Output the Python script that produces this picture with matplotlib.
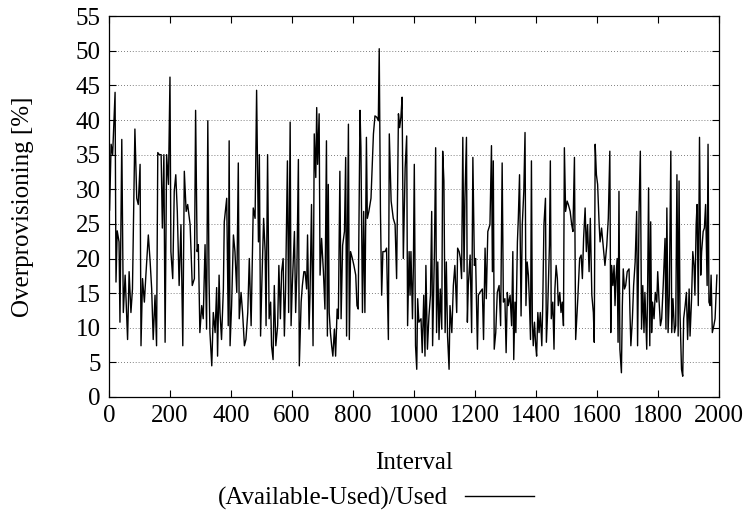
import matplotlib
matplotlib.use("Agg")
import matplotlib.pyplot as plt

# readings taken off the reference chart, (interval, overprovisioning %)
interval = [
    2, 7, 12, 20, 23, 27, 33, 36, 42, 47, 53, 61, 66, 72, 77, 85, 91, 96, 102, 105,
    110, 116, 121, 129, 135, 140, 145, 151, 156, 160, 165, 171, 175, 180, 184, 189,
    195, 200, 203, 209, 214, 219, 224, 230, 236, 242, 247, 253, 258, 266, 273, 280,
    284, 289, 293, 298, 304, 309,
    315, 320, 324, 328, 331, 337, 342, 348, 353, 356, 361, 364, 369, 375, 378, 386,
    391, 394, 397, 402, 408, 413, 419, 424, 427, 433, 438, 444, 449, 455, 460, 466,
    473, 479, 484, 490, 493, 497, 501, 507, 512, 515, 520, 525, 530, 533, 538, 542,
    547, 553, 557, 562, 566, 571, 575, 579, 585, 589, 594, 597, 601, 608, 612, 616,
    621, 624, 630, 634, 639,
    643, 648, 651, 656, 659, 664, 669, 673, 678, 681, 684, 689, 692, 697, 703, 708,
    713, 716, 719, 722, 726, 730, 734, 739, 743, 748, 752, 757, 761, 766, 772, 776,
    779, 785, 788, 792, 798, 803, 809, 813, 817, 823, 826, 831, 835, 839, 844, 847,
    852, 859, 867, 872, 878, 883, 886, 890, 894, 898, 905, 910, 916, 919, 925, 932,
    938, 943, 949, 953, 957, 961, 965,
    971, 976, 979, 984, 987, 990, 995, 998, 1001, 1005, 1009, 1012, 1016, 1023, 1027,
    1032, 1036, 1039, 1044, 1049, 1054, 1058, 1061, 1067, 1071, 1074, 1078, 1082,
    1086, 1091, 1094, 1098, 1102, 1106, 1110, 1115, 1118, 1124, 1129, 1134, 1140,
    1143, 1148, 1152, 1156, 1160, 1164, 1167, 1172, 1175, 1178, 1184, 1189, 1193,
    1198, 1202, 1208, 1211, 1216, 1224, 1228, 1233, 1237, 1242, 1249, 1254, 1257,
    1260, 1263, 1268, 1273, 1279, 1284, 1289, 1293,
    1298, 1302, 1306, 1309, 1315, 1320, 1324, 1327, 1331, 1334, 1339, 1342, 1346,
    1351, 1355, 1360, 1364, 1367, 1371, 1375, 1378, 1382, 1385, 1388, 1391, 1395,
    1399, 1402, 1406, 1410, 1414, 1419, 1422, 1426, 1431, 1434, 1438, 1444, 1447,
    1450, 1455, 1459, 1462, 1466, 1470, 1473, 1478, 1482, 1486, 1490, 1493, 1497,
    1502, 1506, 1512, 1517, 1521, 1526, 1530, 1537, 1543, 1548, 1552, 1556, 1561,
    1565, 1569, 1574, 1578, 1583, 1588, 1591, 1594, 1598, 1602, 1607, 1610, 1615,
    1621,
    1626, 1632, 1637, 1642, 1645, 1648, 1652, 1656, 1659, 1662, 1666, 1669, 1672,
    1675, 1680, 1683, 1686, 1690, 1694, 1699, 1705, 1708, 1711, 1716, 1720, 1725,
    1730, 1733, 1738, 1742, 1746, 1750, 1754, 1757, 1763, 1766, 1769, 1773, 1776,
    1779, 1782, 1787, 1791, 1796, 1799, 1803, 1808, 1812, 1817, 1823, 1826, 1829,
    1833, 1837, 1842, 1845, 1849, 1854, 1858, 1862, 1866, 1869, 1872, 1877, 1881,
    1884, 1889, 1893, 1897, 1902, 1905, 1910, 1914, 1918, 1921, 1925, 1928, 1932,
    1936, 1940, 1943, 1948, 1952, 1956, 1961, 1964, 1967, 1971, 1974, 1978, 1983,
    1987, 1993,
]
overprov = [
    27, 36.5, 35, 44, 16.6, 24, 22.4, 10.8, 37.2, 12.2, 17.6, 8.3, 18.1, 12.2, 15.6,
    38.7, 28.7, 27.8, 33.6, 7.4, 17.1, 13.7, 17.6, 23.4, 19.5, 15.6, 8.3, 14.7, 7.4,
    35.3, 35, 35, 24.4, 35, 7.9, 35, 30.7, 46.2, 21, 17.1, 29.7, 32.1, 26.8, 16.1,
    24.9, 7.4, 32.6, 26.8, 27.8, 24.9, 16.1, 17.1, 41.4, 21, 22, 9.3, 13.2, 11.3,
    22, 9.8, 39.9, 17.1, 9.3, 4.5, 12.2, 9.3, 15.8, 5.9, 17.6, 12.2, 8.3, 15.6, 25.3,
    28.7, 10.3, 37, 7.4, 13.2, 23.4, 21, 15.1, 33.8, 11.3, 15.1, 12.2, 7.4, 8.3,
    12.2, 20, 10.3, 27.3, 25.8, 44.3, 22.4, 35, 8.8, 16.1, 25.8, 21, 10.3, 35, 11.3,
    13.7, 7.4, 5.4, 16.1, 7.4, 10.3, 19, 11.3, 18.1, 20, 8.8, 15.6, 34.1, 12.2, 39.7,
    10.3, 16.1, 23.9, 12.2, 18.1, 34.3, 4.5, 13.7, 16.1, 18.1,
    18.1, 15.6, 23.4, 9.8, 14.7, 27.8, 7.4, 38, 31.7, 41.8, 33.6, 40.9, 17.6, 22.9,
    18.1, 12.7, 37, 8.8, 30.7, 12.2, 9.3, 7.4, 5.9, 9.8, 5.9, 12.7, 11.3, 32.6, 11.3,
    21.9, 23.9, 34.6, 8.8, 39.4, 8.3, 21, 20, 19, 17.6, 13.2, 12.7, 41.4, 36, 12.2,
    26.8, 12.2, 37.5, 25.8, 26.8, 28.7, 38, 40.6, 40.4, 39.9, 50.3, 26.8, 14.7, 21,
    21, 21.5, 8.3, 38, 28.3, 25.8, 24.9, 17.1, 40.9, 38.9, 40.4, 43.3, 20,
    33.1, 37.7, 10.3, 21, 14.7, 21, 11.3, 19, 33.6, 7.4, 4, 14.2, 10.8, 11.3, 6.4,
    14.7, 5.9, 19, 6.9, 11.7, 14.7, 26.8, 7.4, 21, 36, 9.3, 19.5, 8.3, 15.6, 9.8,
    35.5, 31.2, 9.3, 19.5, 8.8, 4, 13.2, 9.3, 16.1, 19, 12.2, 21.5, 21, 20, 17.1,
    37.5, 18.1, 28.7, 37.5, 10.8, 16.1, 20.5, 9.3, 34.6, 19, 20, 6.9, 14.7, 15.1,
    15.6, 8.3, 21.5, 14.2, 23.9, 24.9, 36.3, 18.1, 34.1, 6.9, 9.3, 15.1, 16.1, 10.3,
    33.8, 13.7,
    14.2, 6.4, 15.1, 13.2, 14.7, 10.3, 21, 5.4, 13.7, 9.3, 22.4, 25.8, 32.1, 11.7,
    24.9, 29.7, 38.2, 13.2, 19.5, 17.6, 14.2, 8.3, 34.1, 10.8, 7.4, 10.8, 7.4, 5.9,
    12.2, 9.3, 12.2, 7.4, 13.2, 24.9, 28.7, 7.9, 12.2, 21.9, 34.1, 11.3, 13.7, 6.9,
    15.6, 19, 17.1, 13.2, 15.1, 12.2, 13.7, 10.3, 36, 26.8, 28.3, 27.8, 26.8, 24.9,
    23.9, 34.6, 8.3, 14.2, 20, 20.5, 17.1, 22.9, 27.3, 21, 24.9, 18.1, 25.8, 14.7,
    12.2, 7.9, 36.5, 32.1, 30.7, 24.9, 22.4, 24.4, 21.5,
    19, 21.9, 25.8, 35.5, 9.3, 19, 16.1, 19, 13.2, 17.1, 20, 7.9, 29.7, 6.9, 3.5,
    13.2, 18.5, 15.6, 16.1, 18.1, 18.5, 12.2, 7.4, 11.3, 16.1, 19.5, 26.8, 7.4, 27.3,
    35.5, 9.8, 16.1, 9.3, 15.1, 6.9, 16.1, 30.2, 7.4, 25.3, 9.3, 13.7, 11.3, 15.1,
    13.7, 18.1, 14.2, 10.3, 11.3, 16.1, 22.9, 9.8, 27.3, 9.3, 14.7, 35.5, 9.3, 14.2,
    9.3, 10.3, 32.1, 8.8, 31.2, 12.2, 4, 3, 11.3, 13.2, 15.1, 8.3, 15.6, 8.8, 14.2,
    21, 19, 14.7, 24.9, 27.8, 13.2, 37.5, 17.6, 21, 23.9, 24.4, 27.8, 16.1, 36.5,
    13.7, 13.2, 17.6, 9.3, 10.3, 11.3, 17.6,
]
xticks = list(range(0, 2001, 200))
yticks = list(range(0, 56, 5))

plt.rcParams['font.family'] = ['Liberation Serif', 'DejaVu Serif']
plt.rcParams['font.size'] = 18

fig = plt.figure(figsize=(7.5, 5.22), dpi=100)
ax = fig.add_axes([0.1453, 0.2395, 0.8134, 0.7295])

line, = ax.plot(interval, overprov, color="black", linewidth=1.0,
                label="(Available-Used)/Used")

ax.set_xlim(0, 2000)
ax.set_ylim(0, 55)
ax.set_xticks(xticks)
ax.set_yticks(yticks)
ax.tick_params(direction="in", top=True, right=True, length=5, width=0.8, pad=6)
for g in yticks[1:-1]:
    ax.axhline(g, color="#555555", linestyle=(0, (1, 2.5)), linewidth=0.6, zorder=0)
for s in ax.spines.values():
    s.set_linewidth(0.9)

ax.set_xlabel("Interval", labelpad=18)
ax.set_ylabel("Overprovisioning [%]", labelpad=30)

fig.legend(handles=[line], loc="center", bbox_to_anchor=(0.501, 0.045),
           frameon=False, markerfirst=False, handlelength=2.76,
           handletextpad=0.68, fontsize=18)

fig.savefig("out.png", dpi=100)
